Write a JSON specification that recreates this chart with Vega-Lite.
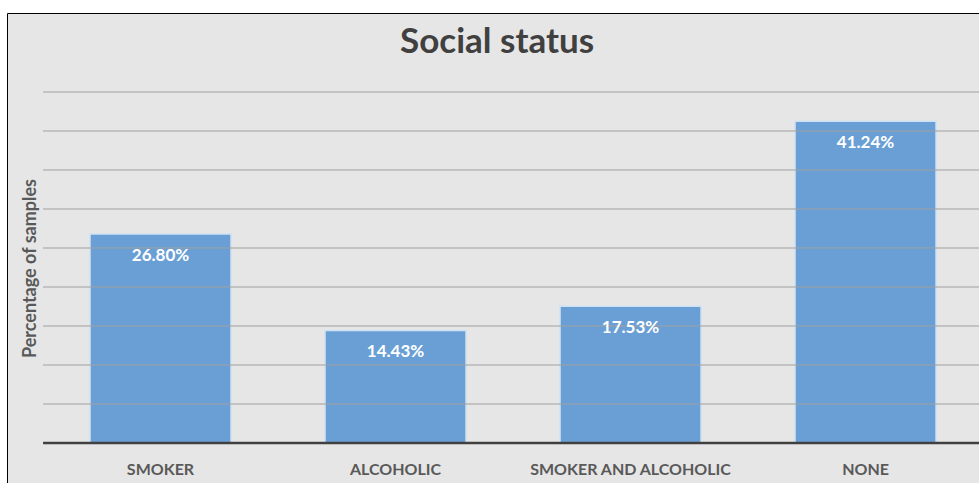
{
  "$schema": "https://vega.github.io/schema/vega-lite/v6.json",
  "width": 972,
  "height": 470,
  "autosize": {"type": "none"},
  "padding": {"left": 7, "top": 13, "right": 0, "bottom": 0},
  "background": "white",
  "config": {
    "font": "Lato",
    "view": {"stroke": "#000000", "strokeWidth": 1, "fill": "#e6e6e6"}
  },
  "datasets": {
    "bars": [
      {"cat": "SMOKER", "pct": 26.80, "label": "26.80%"},
      {"cat": "ALCOHOLIC", "pct": 14.43, "label": "14.43%"},
      {"cat": "SMOKER AND ALCOHOLIC", "pct": 17.53, "label": "17.53%"},
      {"cat": "NONE", "pct": 41.24, "label": "41.24%"}
    ],
    "grid": [{"g": 5}, {"g": 10}, {"g": 15}, {"g": 20}, {"g": 25}, {"g": 30}, {"g": 35}, {"g": 40}, {"g": 45}],
    "base": [{"g": 0}],
    "titles": [{"t": "Social status"}]
  },
  "layer": [
    {
      "data": {"name": "bars"},
      "mark": {"type": "bar", "color": "#6a9fd5", "stroke": "#cfe2f3", "strokeWidth": 1.5},
      "encoding": {
        "x": {
          "field": "cat",
          "type": "nominal",
          "sort": null,
          "scale": {"paddingInner": 0.4, "paddingOuter": 0.268, "align": 0.659},
          "axis": null
        },
        "y": {
          "field": "pct",
          "type": "quantitative",
          "scale": {"domain": [-5.128, 55.128], "nice": false, "zero": false},
          "axis": {
            "title": "Percentage of samples",
            "labels": false,
            "ticks": false,
            "domain": false,
            "grid": false,
            "titleX": 23,
            "titleY": 255,
            "titleAngle": -90,
            "titleAlign": "center",
            "titleBaseline": "middle",
            "titleFontSize": 18,
            "titleFontWeight": "bold",
            "titleColor": "#595959"
          }
        }
      }
    },
    {
      "data": {"name": "grid"},
      "mark": {"type": "rule", "color": "#a0a0a0", "strokeWidth": 1},
      "encoding": {
        "y": {"field": "g", "type": "quantitative"},
        "x": {"datum": "SMOKER", "bandPosition": -0.333},
        "x2": {"datum": "NONE", "bandPosition": 1.31}
      }
    },
    {
      "data": {"name": "base"},
      "mark": {"type": "rule", "color": "#404040", "strokeWidth": 2.5},
      "encoding": {
        "y": {"field": "g", "type": "quantitative"},
        "x": {"datum": "SMOKER", "bandPosition": -0.333},
        "x2": {"datum": "NONE", "bandPosition": 1.31}
      }
    },
    {
      "data": {"name": "bars"},
      "mark": {"type": "text", "color": "white", "fontSize": 17, "fontWeight": "bold", "baseline": "middle", "dy": 22},
      "encoding": {
        "x": {"field": "cat", "type": "nominal", "sort": null},
        "y": {"field": "pct", "type": "quantitative"},
        "text": {"field": "label"}
      }
    },
    {
      "data": {"name": "bars"},
      "mark": {"type": "text", "color": "#595959", "fontSize": 16, "fontWeight": "bold", "baseline": "middle"},
      "encoding": {
        "x": {"field": "cat", "type": "nominal", "sort": null},
        "y": {"datum": -3.4},
        "text": {"field": "cat"}
      }
    },
    {
      "data": {"name": "titles"},
      "mark": {"type": "text", "color": "#404040", "fontSize": 35, "fontWeight": "bold", "baseline": "alphabetic"},
      "encoding": {
        "x": {"datum": "ALCOHOLIC", "bandPosition": 1.22},
        "y": {"datum": 50.0},
        "text": {"field": "t"}
      }
    }
  ]
}
